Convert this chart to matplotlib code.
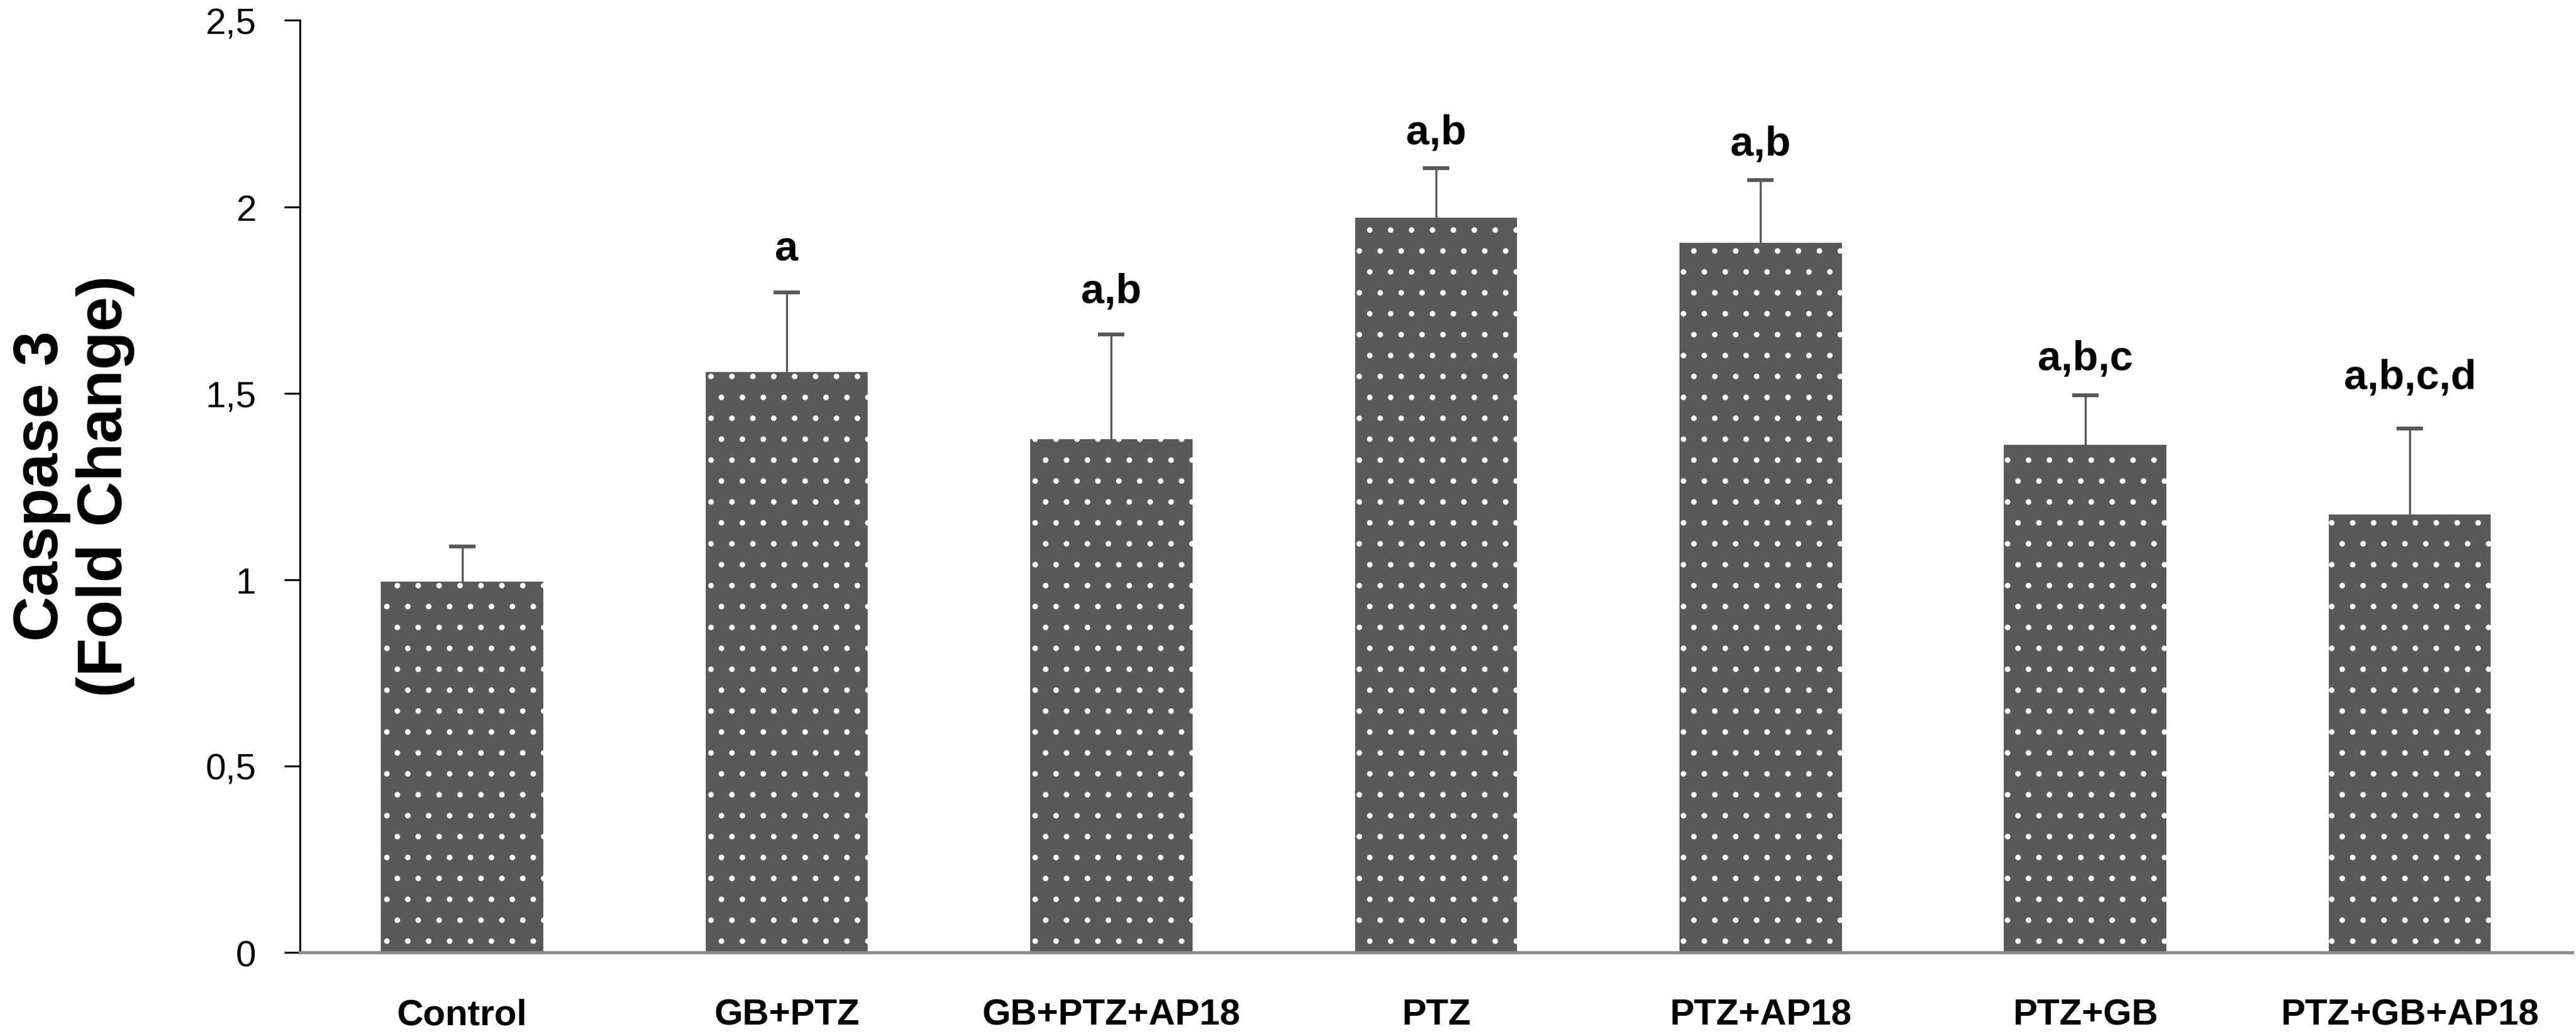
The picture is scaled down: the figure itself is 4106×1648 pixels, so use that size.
import matplotlib
matplotlib.use('Agg')
import matplotlib.pyplot as plt

# Caspase 3 fold change per group
groups = ['Control', 'GB+PTZ', 'GB+PTZ+AP18', 'PTZ', 'PTZ+AP18', 'PTZ+GB', 'PTZ+GB+AP18']
means = [0.995, 1.556, 1.377, 1.970, 1.904, 1.362, 1.174]
errors = [0.094, 0.215, 0.280, 0.134, 0.167, 0.133, 0.232]
letters = ['', 'a', 'a,b', 'a,b', 'a,b', 'a,b,c', 'a,b,c,d']
y_ticks = [0, 0.5, 1, 1.5, 2, 2.5]
y_tick_labels = ['0', '0,5', '1', '1,5', '2', '2,5']

# gap between the top of the error bar and the letters (data units)
letter_gaps = [0.0, 0.086, 0.088, 0.066, 0.069, 0.069, 0.108]

plt.rcParams['font.family'] = ['Liberation Sans', 'DejaVu Sans']
plt.rcParams['hatch.color'] = 'white'
plt.rcParams['hatch.linewidth'] = 0.8

fig = plt.figure(figsize=(20.53, 8.245), dpi=200)
ax = fig.add_axes([0.1164, 0.0788, 0.8821, 0.9009])

bar_color = '#595959'
x = list(range(len(groups)))
ax.bar(x, means, width=0.5, color=bar_color, edgecolor='white', linewidth=0,
       hatch='.', zorder=2)
_, caps, _ = ax.errorbar(x, means, yerr=[[0] * len(errors), errors], fmt='none',
                         ecolor=bar_color, elinewidth=1.2, capsize=7.5,
                         capthick=2.2, zorder=3)
# only the upper whisker is shown, hide the cap sitting on the bar top
caps[0].set_visible(False)

for xi, m, e, lab, gap in zip(x, means, errors, letters, letter_gaps):
    if lab:
        ax.text(xi, m + e + gap, lab, ha='center', va='baseline',
                fontsize=24, fontweight='bold')

ax.set_xlim(-0.5, 6.5)
ax.set_ylim(0, 2.5)
ax.set_yticks(y_ticks)
ax.set_yticklabels(y_tick_labels, fontsize=21)
ax.set_xticks(x)
ax.set_xticklabels(groups, fontsize=21, fontweight='bold')

ax.spines['top'].set_visible(False)
ax.spines['right'].set_visible(False)
ax.spines['left'].set_color('black')
ax.spines['left'].set_linewidth(1.1)
ax.spines['bottom'].set_color('#8c8c8c')
ax.spines['bottom'].set_linewidth(1.8)
ax.tick_params(axis='y', direction='out', length=9, width=1.1, pad=16)
ax.tick_params(axis='x', length=0, pad=26)

fig.text(0.0285, 0.53, 'Caspase 3\n(Fold Change)', rotation=90, ha='center',
         va='center', multialignment='center', fontsize=36, fontweight='bold',
         linespacing=1.1)

fig.savefig('out.png', dpi=200)
